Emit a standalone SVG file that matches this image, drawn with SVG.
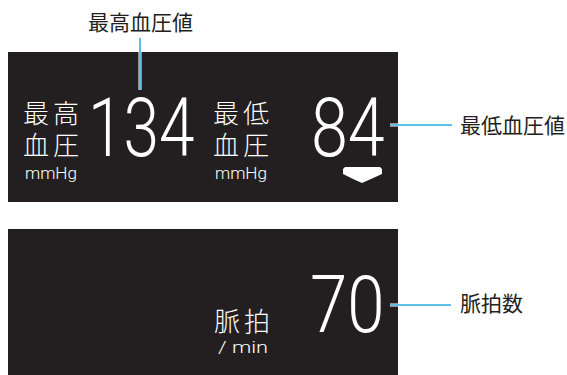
<svg xmlns="http://www.w3.org/2000/svg" width="567" height="375" viewBox="0 0 567 375">
<style>
.panel{fill:#231f20}
.cjk{font-family:"Noto Sans CJK JP","Noto Sans",sans-serif;dominant-baseline:central}
.lbl{font-size:21px;fill:#231f20;font-weight:400}
.pl{font-size:26px;fill:#fff;font-weight:300;letter-spacing:4px}
.unit{font-family:Roboto,"Liberation Sans",sans-serif;fill:#fff;font-size:16px;font-weight:300}
.num{font-family:Roboto,"Liberation Sans",sans-serif;fill:#fff;font-weight:300}
.halo{stroke:#fff;stroke-width:3;fill:none}
.ln{stroke:#29abe2;stroke-width:1.5;fill:none}
</style>
<rect width="567" height="375" fill="#fff"/>
<g id="panel-top">
<rect class="panel" x="8" y="52" width="390" height="150"/>
<text class="cjk pl"><tspan x="23" y="110.5">最高</tspan><tspan x="23" y="142.5">血圧</tspan></text>
<text class="unit" x="25" y="179" textLength="52" lengthAdjust="spacingAndGlyphs">mmHg</text>
<text class="num" transform="translate(88,156) scale(0.78,1)" font-size="82">134</text>
<text class="cjk pl"><tspan x="213" y="110.5">最低</tspan><tspan x="213" y="142.5">血圧</tspan></text>
<text class="unit" x="215" y="179" textLength="52" lengthAdjust="spacingAndGlyphs">mmHg</text>
<text class="num" transform="translate(311,156) scale(0.81,1)" font-size="82">84</text>
<polygon fill="#fff" points="345,167 380,167 382,169 382,174 371,179 362,183 353,179 343,174 343,169"/>
</g>
<g id="panel-bottom">
<rect class="panel" x="8" y="229" width="390" height="146"/>
<text class="cjk pl" x="214" y="319.5">脈拍</text>
<text class="unit" x="218" y="353" font-size="15" textLength="50" lengthAdjust="spacingAndGlyphs">/ min</text>
<text class="num" transform="translate(310,332) scale(0.85,1)" font-size="79">70</text>
</g>
<g id="label-systolic"><text class="cjk lbl" x="140.5" y="21" text-anchor="middle">最高血圧値</text></g>
<g id="label-diastolic"><text class="cjk lbl" x="460" y="124">最低血圧値</text></g>
<g id="label-pulse"><text class="cjk lbl" x="460" y="302">脈拍数</text></g>
<g id="connectors">
<line class="halo" x1="140" y1="52" x2="140" y2="90"/>
<line class="ln" x1="140" y1="38" x2="140" y2="90"/>
<line class="halo" x1="390" y1="125" x2="398" y2="125"/>
<line class="ln" x1="390" y1="125" x2="452" y2="125"/>
<line class="halo" x1="390" y1="305" x2="398" y2="305"/>
<line class="ln" x1="390" y1="305" x2="451" y2="305"/>
</g>
</svg>
